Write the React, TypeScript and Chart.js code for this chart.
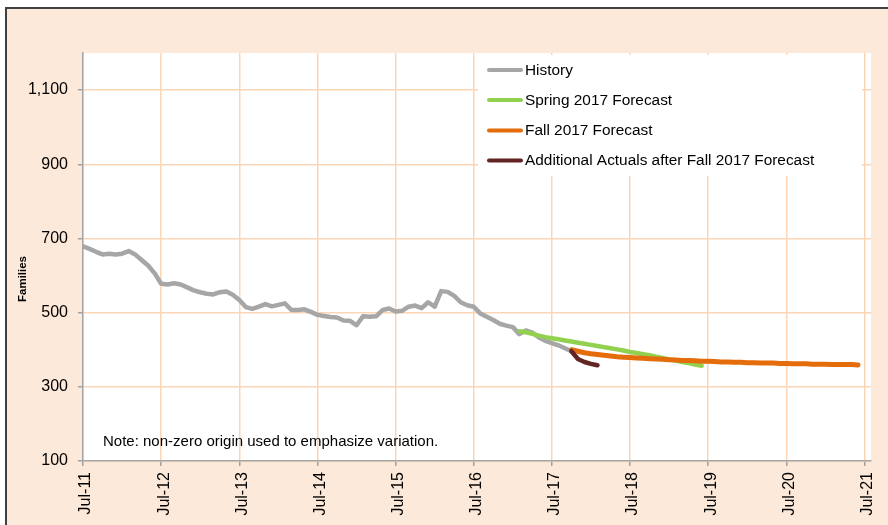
import React, { useEffect, useRef } from 'react';
import { Chart, registerables } from 'chart.js';

Chart.register(...registerables);

// Month index: 0 = Jul-11
const tickMonths = [0, 12, 24, 36, 48, 60, 72, 84, 96, 108, 120];
const tickLabels = ['Jul-11', 'Jul-12', 'Jul-13', 'Jul-14', 'Jul-15', 'Jul-16', 'Jul-17', 'Jul-18', 'Jul-19', 'Jul-20', 'Jul-21'];
const yTicks = [100, 300, 500, 700, 900, 1100];

const seriesNames = ['History', 'Spring 2017 Forecast', 'Fall 2017 Forecast', 'Additional Actuals after Fall 2017 Forecast'];
const seriesColors = ['#A6A6A6', '#92D050', '#E46C0A', '#632523'];

const historyStart = 0;
const history = [
  679, 672, 664, 657, 659, 657, 659, 666, 657, 642, 627, 606,
  578, 576, 579, 576, 568, 560, 555, 551, 549, 555, 557, 548,
  534, 515, 510, 516, 523, 517, 521, 525, 507, 507, 509, 502,
  494, 491, 488, 487, 479, 478, 466, 490, 489, 490, 507, 511,
  503, 505, 516, 519, 512, 528, 516, 558, 556, 545, 528, 520,
  516, 498, 489, 480, 470, 465, 461, 442, 452, 446, 433, 424,
  418, 412, 404, 396,
];

const springStart = 67;
const spring = [
  450, 447, 443, 438, 434, 431, 428, 425, 422, 419, 416, 413,
  410, 407, 404, 401, 398, 394, 391, 388, 385, 381, 378, 374,
  371, 367, 364, 360, 357,
];

const fallStart = 75;
const fall = [
  400, 396, 392, 389, 387, 385, 383, 381, 380, 379, 378, 377,
  376, 375, 374, 373, 372, 371, 371, 370, 369, 369, 368, 367,
  367, 366, 366, 365, 365, 364, 364, 364, 363, 363, 362, 362,
  362, 361, 361, 361, 360, 360, 360, 360, 359,
];

const actualsStart = 75;
const actuals = [396, 375, 367, 362, 358];

const noteText = 'Note: non-zero origin used to emphasize variation.';
const yTitle = 'Families';

const FONT = '"Liberation Sans", Arial, sans-serif';

function toPoints(start: number, values: number[]) {
  return values.map((v, i) => ({ x: start + i, y: v }));
}

const decorPlugin = {
  id: 'decor',
  beforeDraw(chart: any) {
    const { ctx, chartArea } = chart;
    ctx.save();
    ctx.fillStyle = '#FFFFFF';
    ctx.fillRect(chartArea.left, chartArea.top, chartArea.right - chartArea.left, chartArea.bottom - chartArea.top);
    ctx.restore();
  },
  afterDraw(chart: any) {
    const { ctx } = chart;
    ctx.save();
    // legend box
    ctx.fillStyle = '#FFFFFF';
    ctx.fillRect(471, 46, 384, 121);
    const rowY = [61, 91, 121.5, 151.5];
    ctx.font = `15.4px ${FONT}`;
    ctx.textBaseline = 'middle';
    ctx.textAlign = 'left';
    seriesNames.forEach((name, i) => {
      ctx.strokeStyle = seriesColors[i];
      ctx.lineWidth = 4;
      ctx.lineCap = 'round';
      ctx.beginPath();
      ctx.moveTo(482, rowY[i]);
      ctx.lineTo(514, rowY[i]);
      ctx.stroke();
      ctx.fillStyle = '#000000';
      ctx.fillText(name, 518, rowY[i] + 0.5);
    });
    // note
    ctx.font = `15px ${FONT}`;
    ctx.textBaseline = 'alphabetic';
    ctx.fillText(noteText, 96, 437);
    // y title
    ctx.translate(15.5, 270);
    ctx.rotate(-Math.PI / 2);
    ctx.font = `bold 11.5px ${FONT}`;
    ctx.textAlign = 'center';
    ctx.textBaseline = 'middle';
    ctx.fillText(yTitle, 0, 0);
    ctx.restore();
  },
};

export default function App() {
  const canvasRef = useRef<HTMLCanvasElement | null>(null);

  useEffect(() => {
    if (!canvasRef.current) return;
    const lineDefaults = {
      pointRadius: 0,
      borderWidth: 4.5,
      borderCapStyle: 'round' as const,
      borderJoinStyle: 'round' as const,
      tension: 0,
      fill: false,
    };
    const chart = new Chart(canvasRef.current, {
      type: 'line',
      data: {
        datasets: [
          { ...lineDefaults, label: seriesNames[0], data: toPoints(historyStart, history), borderColor: seriesColors[0], order: 4 },
          { ...lineDefaults, label: seriesNames[1], data: toPoints(springStart, spring), borderColor: seriesColors[1], order: 3 },
          { ...lineDefaults, label: seriesNames[2], data: toPoints(fallStart, fall), borderColor: seriesColors[2], borderWidth: 5, order: 2 },
          { ...lineDefaults, label: seriesNames[3], data: toPoints(actualsStart, actuals), borderColor: seriesColors[3], order: 1 },
        ],
      },
      options: {
        responsive: false,
        animation: false,
        devicePixelRatio: 1,
        layout: { padding: { top: 44, right: 17, left: 0, bottom: 0 } },
        plugins: {
          legend: { display: false },
          tooltip: { enabled: false },
        },
        scales: {
          x: {
            type: 'linear',
            min: 0,
            max: 121,
            afterBuildTicks: (scale: any) => {
              scale.ticks = tickMonths.map((v) => ({ value: v }));
            },
            afterFit: (scale: any) => {
              scale.height = 64;
              scale.paddingLeft = 0;
              scale.paddingRight = 0;
            },
            grid: {
              color: '#FCD5B5',
              lineWidth: 1.5,
              tickColor: '#A0A0A0',
              tickLength: 5,
              drawTicks: true,
            },
            border: { display: true, color: '#A6A6A6', width: 1.5 },
            ticks: {
              autoSkip: false,
              minRotation: 90,
              maxRotation: 90,
              padding: 6,
              labelOffset: 3,
              color: '#000000',
              font: { family: FONT, size: 16 },
              callback: (value: any) => {
                const idx = tickMonths.indexOf(Number(value));
                return idx >= 0 ? tickLabels[idx] : '';
              },
            },
          },
          y: {
            type: 'linear',
            min: 100,
            max: 1200,
            afterBuildTicks: (scale: any) => {
              scale.ticks = yTicks.map((v) => ({ value: v }));
            },
            afterFit: (scale: any) => {
              scale.width = 76;
              scale.paddingTop = 0;
              scale.paddingBottom = 0;
            },
            grid: {
              color: '#FCD5B5',
              lineWidth: 1.5,
              tickColor: '#A0A0A0',
              tickLength: 5,
            },
            border: { display: true, color: '#A6A6A6', width: 1.5 },
            ticks: {
              padding: 10,
              color: '#000000',
              font: { family: FONT, size: 16 },
              callback: (value: any) => Number(value).toLocaleString('en-US'),
            },
          },
        },
      },
      plugins: [decorPlugin],
    });
    return () => chart.destroy();
  }, []);

  return (
    <div style={{ position: 'absolute', left: 0, top: 0, width: 888, height: 525, background: '#FFFFFF', overflow: 'hidden' }}>
      <div
        style={{
          position: 'absolute',
          left: 5,
          top: 7,
          width: 920,
          height: 560,
          border: '2px solid #404040',
          background: '#FDE9D9',
          boxSizing: 'border-box',
        }}
      />
      <canvas ref={canvasRef} width={881} height={516} style={{ position: 'absolute', left: 7, top: 9, width: 881, height: 516 }} />
    </div>
  );
}
